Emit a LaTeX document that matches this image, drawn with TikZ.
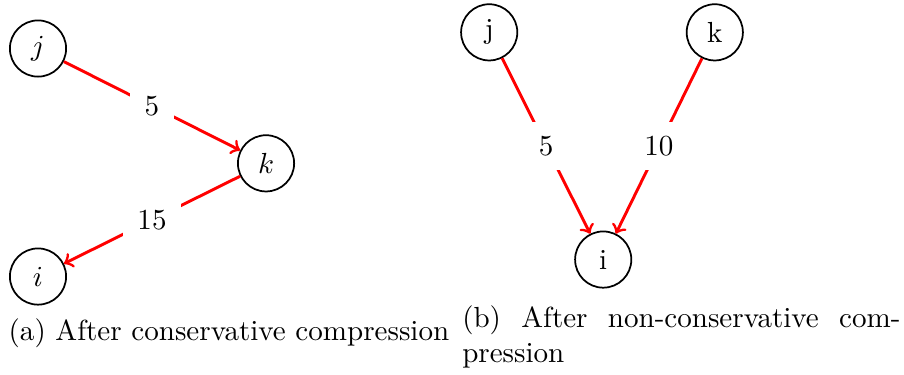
\documentclass[tikz,border=0pt]{standalone}
\usepackage{amsmath}
\usepackage{tikz}
\usetikzlibrary{positioning}

\begin{document}
\begin{tikzpicture}[scale=0.978, >=to,
  vertex/.style={circle, draw, semithick, minimum size=0.68cm, inner sep=0pt},
  flow/.style={->, red, line width=1pt},
  weight/.style={fill=white, text=black, inner sep=5pt}]
  \useasboundingbox (0,0) rectangle (11.18,4.63);
  % conservative
  \node[vertex] (ja) at (0.47,4.03) {$j$};
  \node[vertex] (ka) at (3.29,2.61) {$k$};
  \node[vertex] (ia) at (0.47,1.21) {$i$};
  \draw[flow] (ja) -- node[weight]{$5$} (ka);
  \draw[flow] (ka) -- node[weight]{$15$} (ia);
  \node[anchor=base west, inner sep=0pt] (capa) at (0.10,0.42) {(a) After conservative compression};
  %
  % non-conservative
  \node[vertex] (jb) at (6.05,4.23) {j};
  \node[vertex] (kb) at (8.84,4.23) {k};
  \node[vertex] (ib) at (7.46,1.42) {i};
  \draw[flow] (jb) -- node[weight]{$5$} (ib);
  \draw[flow] (kb) -- node[weight]{$10$} (ib);
  \node[anchor=base west, inner sep=0pt, text width=5.30cm, align=left] (capb) at (5.71,0.58)
    {\hbox to 5.30cm{(b)\hfill After\hfill non-conservative\hfill com-}\\pression};
\end{tikzpicture}
\end{document}
